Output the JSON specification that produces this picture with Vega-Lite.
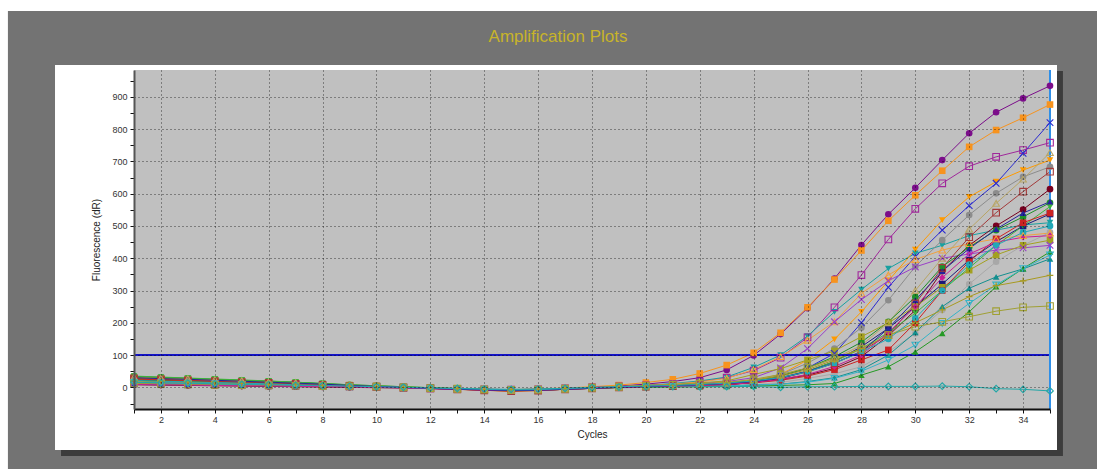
{
  "$schema": "https://vega.github.io/schema/vega-lite/v6.json",
  "width": 916,
  "height": 339,
  "autosize": {"type": "none"},
  "padding": {"left": 134, "top": 70, "right": 47, "bottom": 60},
  "background": "#ffffff",
  "title": {"text": "Amplification Plots", "color": "#c8b42a", "fontSize": 17, "font": "Liberation Sans", "fontWeight": "normal", "anchor": "middle", "frame": "group", "dx": -34, "offset": -48, "baseline": "alphabetic"},
  "config": {"view": {"stroke": null}},
  "datasets": {
    "curves": [
      {"s": "s01", "c": [1,2,3,4,5,6,7,8,9,10,11,12,13,14,15,16,17,18,19,20,21,22,23,24,25,26,27,28,29,30,31,32,33,34,35], "v": [12,11,9,8,7,6,5,4,3,2,0,-2,-4,-6,-8,-6,-3,0,4,10,18,30,54,99,165,245,337,441,536,618,704,787,852,895,934]},
      {"s": "s02", "c": [1,2,3,4,5,6,7,8,9,10,11,12,13,14,15,16,17,18,19,20,21,22,23,24,25,26,27,28,29,30,31,32,33,34,35], "v": [20,18,16,14,12,10,8,6,4,2,0,-2,-4,-6,-7,-5,-2,2,7,15,25,43,69,107,169,248,334,424,516,595,671,745,797,835,876]},
      {"s": "s03", "c": [1,2,3,4,5,6,7,8,9,10,11,12,13,14,15,16,17,18,19,20,21,22,23,24,25,26,27,28,29,30,31,32,33,34,35], "v": [15,14,12,11,9,7,6,4,3,1,-1,-3,-5,-6,-7,-6,-3,0,3,6,10,18,30,52,92,155,248,348,458,553,632,685,714,735,758]},
      {"s": "s04", "c": [1,2,3,4,5,6,7,8,9,10,11,12,13,14,15,16,17,18,19,20,21,22,23,24,25,26,27,28,29,30,31,32,33,34,35], "v": [10,9,8,7,6,5,4,3,2,1,-1,-3,-5,-7,-9,-8,-5,-2,1,3,5,8,12,20,35,60,105,200,310,405,487,563,632,725,820]},
      {"s": "s05", "c": [1,2,3,4,5,6,7,8,9,10,11,12,13,14,15,16,17,18,19,20,21,22,23,24,25,26,27,28,29,30,31,32,33,34,35], "v": [32,29,27,24,21,18,15,11,7,4,1,-2,-5,-8,-10,-8,-5,-2,2,6,12,20,32,62,100,159,234,303,368,415,440,470,487,503,510]},
      {"s": "s06", "c": [1,2,3,4,5,6,7,8,9,10,11,12,13,14,15,16,17,18,19,20,21,22,23,24,25,26,27,28,29,30,31,32,33,34,35], "v": [22,20,18,16,13,11,9,6,4,2,0,-2,-4,-6,-8,-7,-4,-1,2,5,10,17,28,55,95,146,203,291,348,396,425,445,460,470,478]},
      {"s": "s07", "c": [1,2,3,4,5,6,7,8,9,10,11,12,13,14,15,16,17,18,19,20,21,22,23,24,25,26,27,28,29,30,31,32,33,34,35], "v": [15,14,12,11,9,7,6,4,3,1,-1,-3,-5,-6,-7,-6,-3,0,3,5,8,12,18,30,60,120,203,272,330,373,400,413,425,432,440]},
      {"s": "s08", "c": [1,2,3,4,5,6,7,8,9,10,11,12,13,14,15,16,17,18,19,20,21,22,23,24,25,26,27,28,29,30,31,32,33,34,35], "v": [28,25,22,19,16,14,11,8,5,2,-1,-3,-6,-9,-12,-10,-6,-3,0,3,6,10,15,22,40,85,149,234,330,427,518,590,637,673,704]},
      {"s": "s09", "c": [1,2,3,4,5,6,7,8,9,10,11,12,13,14,15,16,17,18,19,20,21,22,23,24,25,26,27,28,29,30,31,32,33,34,35], "v": [22,20,18,16,13,11,9,6,4,2,0,-2,-4,-6,-8,-7,-4,-1,2,4,6,9,13,20,40,75,120,185,270,374,456,534,601,652,683]},
      {"s": "s10", "c": [1,2,3,4,5,6,7,8,9,10,11,12,13,14,15,16,17,18,19,20,21,22,23,24,25,26,27,28,29,30,31,32,33,34,35], "v": [10,9,8,7,6,5,4,3,2,1,-1,-3,-5,-7,-9,-8,-5,-2,0,2,3,4,5,8,15,28,42,64,110,167,240,320,389,440,480]},
      {"s": "s11", "c": [1,2,3,4,5,6,7,8,9,10,11,12,13,14,15,16,17,18,19,20,21,22,23,24,25,26,27,28,29,30,31,32,33,34,35], "v": [28,25,22,19,16,14,11,8,5,2,-1,-3,-6,-9,-12,-10,-6,-3,0,2,4,6,9,15,28,48,75,112,162,260,370,465,541,606,668]},
      {"s": "s12", "c": [1,2,3,4,5,6,7,8,9,10,11,12,13,14,15,16,17,18,19,20,21,22,23,24,25,26,27,28,29,30,31,32,33,34,35], "v": [32,29,27,24,21,18,15,11,7,4,1,-2,-5,-8,-10,-8,-5,-2,1,4,6,9,14,22,38,60,90,130,200,300,400,490,570,645,727]},
      {"s": "s13", "c": [1,2,3,4,5,6,7,8,9,10,11,12,13,14,15,16,17,18,19,20,21,22,23,24,25,26,27,28,29,30,31,32,33,34,35], "v": [8,7,6,5,4,3,2,1,0,-1,-2,-4,-6,-8,-10,-9,-6,-3,0,2,3,5,8,15,25,38,59,95,160,239,360,440,500,551,614]},
      {"s": "s14", "c": [1,2,3,4,5,6,7,8,9,10,11,12,13,14,15,16,17,18,19,20,21,22,23,24,25,26,27,28,29,30,31,32,33,34,35], "v": [34,31,28,25,22,19,16,12,8,5,2,-1,-4,-7,-9,-8,-5,-2,1,4,6,9,13,20,35,60,95,140,203,280,374,434,487,528,572]},
      {"s": "s15", "c": [1,2,3,4,5,6,7,8,9,10,11,12,13,14,15,16,17,18,19,20,21,22,23,24,25,26,27,28,29,30,31,32,33,34,35], "v": [22,20,18,16,13,11,9,6,4,2,0,-2,-4,-6,-8,-7,-4,-1,1,3,5,7,10,15,28,50,80,126,183,250,320,394,451,500,537]},
      {"s": "s16", "c": [1,2,3,4,5,6,7,8,9,10,11,12,13,14,15,16,17,18,19,20,21,22,23,24,25,26,27,28,29,30,31,32,33,34,35], "v": [30,28,26,23,20,17,14,10,7,4,1,-2,-5,-7,-9,-7,-4,-1,2,6,9,14,20,40,58,85,113,157,200,250,310,363,410,440,456]},
      {"s": "s17", "c": [1,2,3,4,5,6,7,8,9,10,11,12,13,14,15,16,17,18,19,20,21,22,23,24,25,26,27,28,29,30,31,32,33,34,35], "v": [35,32,29,26,23,20,16,12,8,5,2,-1,-4,-7,-10,-9,-6,-3,0,3,5,8,12,18,30,50,80,120,170,230,300,370,440,500,560]},
      {"s": "s18", "c": [1,2,3,4,5,6,7,8,9,10,11,12,13,14,15,16,17,18,19,20,21,22,23,24,25,26,27,28,29,30,31,32,33,34,35], "v": [10,9,8,7,6,5,4,3,2,1,-1,-3,-5,-7,-9,-8,-5,-2,0,2,3,4,5,7,10,18,30,55,100,170,250,307,342,367,398]},
      {"s": "s19", "c": [1,2,3,4,5,6,7,8,9,10,11,12,13,14,15,16,17,18,19,20,21,22,23,24,25,26,27,28,29,30,31,32,33,34,35], "v": [24,22,19,17,14,12,9,7,4,2,0,-2,-4,-6,-8,-7,-5,-3,-1,0,1,2,3,4,6,8,12,38,64,110,167,234,312,368,420]},
      {"s": "s20", "c": [1,2,3,4,5,6,7,8,9,10,11,12,13,14,15,16,17,18,19,20,21,22,23,24,25,26,27,28,29,30,31,32,33,34,35], "v": [15,14,12,11,9,7,6,4,3,1,-1,-3,-5,-6,-7,-6,-3,-1,1,2,3,4,5,7,10,16,28,50,85,131,198,260,317,368,410]},
      {"s": "s21", "c": [1,2,3,4,5,6,7,8,9,10,11,12,13,14,15,16,17,18,19,20,21,22,23,24,25,26,27,28,29,30,31,32,33,34,35], "v": [20,18,16,14,12,10,8,6,4,2,0,-2,-4,-6,-7,-6,-4,-1,2,4,6,9,14,22,35,55,85,120,160,200,240,281,315,330,347]},
      {"s": "s22", "c": [1,2,3,4,5,6,7,8,9,10,11,12,13,14,15,16,17,18,19,20,21,22,23,24,25,26,27,28,29,30,31,32,33,34,35], "v": [12,11,9,8,7,6,5,4,3,2,0,-2,-4,-6,-8,-7,-4,-1,2,5,8,11,15,25,40,60,90,120,162,188,203,219,236,248,252]},
      {"s": "s23", "c": [1,2,3,4,5,6,7,8,9,10,11,12,13,14,15,16,17,18,19,20,21,22,23,24,25,26,27,28,29,30,31,32,33,34,35], "v": [16,14,13,11,9,8,6,5,3,2,0,-2,-3,-5,-6,-5,-3,-1,1,2,2,2,2,3,0,2,2,3,3,3,4,2,-4,-6,-11]},
      {"s": "s24", "c": [1,2,3,4,5,6,7,8,9,10,11,12,13,14,15,16,17,18,19,20,21,22,23,24,25,26,27,28,29,30,31,32,33,34,35], "v": [26,23,21,18,15,13,10,7,4,2,-1,-3,-6,-9,-11,-9,-6,-3,0,2,4,6,9,14,22,35,55,85,116,200,300,390,460,510,540]},
      {"s": "s25", "c": [1,2,3,4,5,6,7,8,9,10,11,12,13,14,15,16,17,18,19,20,21,22,23,24,25,26,27,28,29,30,31,32,33,34,35], "v": [9,8,7,6,5,4,3,2,1,0,-2,-4,-6,-8,-10,-9,-6,-3,0,2,4,6,9,15,25,40,65,100,170,250,340,413,450,465,470]},
      {"s": "s26", "c": [1,2,3,4,5,6,7,8,9,10,11,12,13,14,15,16,17,18,19,20,21,22,23,24,25,26,27,28,29,30,31,32,33,34,35], "v": [30,27,25,22,19,16,13,10,6,3,0,-3,-6,-8,-10,-9,-6,-3,0,3,5,8,12,18,30,50,75,110,183,270,360,430,490,540,575]},
      {"s": "s27", "c": [1,2,3,4,5,6,7,8,9,10,11,12,13,14,15,16,17,18,19,20,21,22,23,24,25,26,27,28,29,30,31,32,33,34,35], "v": [21,19,17,15,13,11,8,6,4,2,0,-2,-4,-6,-8,-7,-4,-1,2,4,6,9,13,20,30,48,75,110,150,214,300,380,440,480,500]}
    ]
  },
  "layer": [
    {
      "data": {"values": [{}]},
      "mark": {"type": "rect", "color": "#737373", "clip": false},
      "encoding": {
        "x": {"datum": -3.68, "type": "quantitative", "title": "Cycles", "scale": {"domain": [1, 35], "nice": false, "zero": false},
          "axis": {"values": [1,2,3,4,5,6,7,8,9,10,11,12,13,14,15,16,17,18,19,20,21,22,23,24,25,26,27,28,29,30,31,32,33,34,35], "tickCount": 200, "format": "d",
            "labelExpr": "datum.value % 2 === 0 ? datum.label : ''", "grid": true, "gridColor": "#000000", "gridDash": [1, 3],
            "gridOpacity": {"condition": {"test": "datum.value % 2 === 1", "value": 0}, "value": 0.7},
            "domainColor": "#111111", "domainWidth": 2, "tickColor": "#111111", "tickSize": 4, "labelFont": "Liberation Sans", "labelFontSize": 9,
            "labelColor": "#333333", "labelPadding": 2, "labelOverlap": false, "labelFlush": false, "titleFont": "Liberation Sans", "titleFontSize": 10,
            "titleFontWeight": "normal", "titleColor": "#222222", "titlePadding": 5, "zindex": 1}},
        "x2": {"datum": 40},
        "y": {"datum": 1166, "type": "quantitative", "title": "Fluorescence (dR)", "scale": {"domain": [-67, 983], "nice": false, "zero": false},
          "axis": {"values": [-50,0,50,100,150,200,250,300,350,400,450,500,550,600,650,700,750,800,850,900,950], "tickCount": 200, "format": "d",
            "labelExpr": "datum.value % 100 === 0 ? datum.label : ''", "grid": true, "gridColor": "#000000", "gridDash": [1, 3],
            "gridOpacity": {"condition": {"test": "datum.value % 100 !== 0", "value": 0}, "value": 0.7},
            "domainColor": "#555555", "domainWidth": 2, "tickColor": "#111111", "tickSize": 4, "labelFont": "Liberation Sans", "labelFontSize": 9,
            "labelColor": "#333333", "labelPadding": 3, "labelOverlap": false, "labelFlush": false, "titleFont": "Liberation Sans", "titleFontSize": 10,
            "titleFontWeight": "normal", "titleColor": "#222222", "titlePadding": 10, "zindex": 1}},
        "y2": {"datum": -400}
      }
    },
    {
      "data": {"values": [{}]},
      "mark": {"type": "rect", "color": "#3c3c3c", "clip": false},
      "encoding": {
        "x": {"datum": -1.709, "type": "quantitative", "title": "Cycles", "scale": {"domain": [1, 35], "nice": false, "zero": false}},
        "x2": {"datum": 35.48},
        "y": {"datum": 979.7, "type": "quantitative", "title": "Fluorescence (dR)", "scale": {"domain": [-67, 983], "nice": false, "zero": false}},
        "y2": {"datum": -212.8}
      }
    },
    {
      "data": {"values": [{}]},
      "mark": {"type": "rect", "color": "#ffffff", "clip": false},
      "encoding": {
        "x": {"datum": -1.932, "type": "quantitative", "title": "Cycles", "scale": {"domain": [1, 35], "nice": false, "zero": false}},
        "x2": {"datum": 35.26},
        "y": {"datum": 998.3, "type": "quantitative", "title": "Fluorescence (dR)", "scale": {"domain": [-67, 983], "nice": false, "zero": false}},
        "y2": {"datum": -194.2}
      }
    },
    {
      "data": {"values": [{}]},
      "mark": {"type": "rect", "color": "#c0c0c0", "clip": false},
      "encoding": {
        "x": {"datum": 1, "type": "quantitative", "title": "Cycles", "scale": {"domain": [1, 35], "nice": false, "zero": false}},
        "x2": {"datum": 35},
        "y": {"datum": 983, "type": "quantitative", "title": "Fluorescence (dR)", "scale": {"domain": [-67, 983], "nice": false, "zero": false}},
        "y2": {"datum": -67}
      }
    },
    {
      "data": {"name": "curves"},
      "transform": [{"flatten": ["c", "v"], "as": ["cycle", "value"]}],
      "mark": {"type": "line", "strokeWidth": 1},
      "encoding": {
        "x": {"field": "cycle", "type": "quantitative", "title": "Cycles", "scale": {"domain": [1, 35], "nice": false, "zero": false}},
        "y": {"field": "value", "type": "quantitative", "title": "Fluorescence (dR)", "scale": {"domain": [-67, 983], "nice": false, "zero": false}},
        "color": {"field": "s", "type": "nominal", "legend": null,
          "scale": {"domain": ["s01","s02","s03","s04","s05","s06","s07","s08","s09","s10","s11","s12","s13","s14","s15","s16","s17","s18","s19","s20","s21","s22","s23","s24","s25","s26","s27"],
            "range": ["#7b0d8a","#f7931e","#a0289b","#2a2ad0","#19a0a0","#f0a040","#9a40c8","#ff9a00","#8c8c8c","#a8a8a8","#a33a3a","#b8a565","#780020","#1f8f2a","#1a1a7a","#a3a020","#3cb43c","#138f8f","#259a25","#35b4c8","#a89a20","#a0a035","#22a6a6","#cc2222","#c81e96","#24249c","#22a8b8"]}}
      }
    },
    {
      "data": {"values": [{}]},
      "mark": {"type": "rule", "color": "#1414c8", "strokeWidth": 2},
      "encoding": {"y": {"datum": 100, "type": "quantitative", "title": "Fluorescence (dR)", "scale": {"domain": [-67, 983], "nice": false, "zero": false}}}
    },
    {
      "data": {"values": [{}]},
      "mark": {"type": "rule", "color": "#2f8fe8", "strokeWidth": 2},
      "encoding": {"x": {"datum": 35, "type": "quantitative", "title": "Cycles", "scale": {"domain": [1, 35], "nice": false, "zero": false}}}
    },
    {
      "data": {"name": "curves"},
      "transform": [
        {"filter": {"field": "s", "oneOf": ["s01","s02","s05","s08","s09","s10","s13","s14","s15","s16","s17","s18","s19","s24","s25","s26","s27"]}},
        {"flatten": ["c", "v"], "as": ["cycle", "value"]}
      ],
      "mark": {"type": "point", "filled": true, "size": 44, "opacity": 1},
      "encoding": {
        "x": {"field": "cycle", "type": "quantitative", "title": "Cycles", "scale": {"domain": [1, 35], "nice": false, "zero": false}},
        "y": {"field": "value", "type": "quantitative", "title": "Fluorescence (dR)", "scale": {"domain": [-67, 983], "nice": false, "zero": false}},
        "color": {"field": "s", "type": "nominal", "legend": null},
        "shape": {"field": "s", "type": "nominal", "legend": null,
          "scale": {"domain": ["s01","s02","s03","s04","s05","s06","s07","s08","s09","s10","s11","s12","s13","s14","s15","s16","s17","s18","s19","s20","s21","s22","s23","s24","s25","s26","s27"],
            "range": ["circle","square","square","M-1,-1L1,1M-1,1L1,-1","triangle-down","triangle-up","M-1,-1L1,1M-1,1L1,-1","triangle-down","circle","circle","square","triangle-up","circle","circle","square","square","triangle-down","triangle-up","triangle-up","triangle-down","M-1,0L1,0M0,-1L0,1","square","diamond","square","diamond","triangle-up","circle"]}}
      }
    },
    {
      "data": {"name": "curves"},
      "transform": [
        {"filter": {"field": "s", "oneOf": ["s03","s04","s06","s07","s11","s12","s20","s21","s22","s23"]}},
        {"flatten": ["c", "v"], "as": ["cycle", "value"]}
      ],
      "mark": {"type": "point", "filled": false, "size": 44, "strokeWidth": 1.1, "opacity": 1},
      "encoding": {
        "x": {"field": "cycle", "type": "quantitative", "title": "Cycles", "scale": {"domain": [1, 35], "nice": false, "zero": false}},
        "y": {"field": "value", "type": "quantitative", "title": "Fluorescence (dR)", "scale": {"domain": [-67, 983], "nice": false, "zero": false}},
        "color": {"field": "s", "type": "nominal", "legend": null},
        "shape": {"field": "s", "type": "nominal", "legend": null}
      }
    }
  ]
}
